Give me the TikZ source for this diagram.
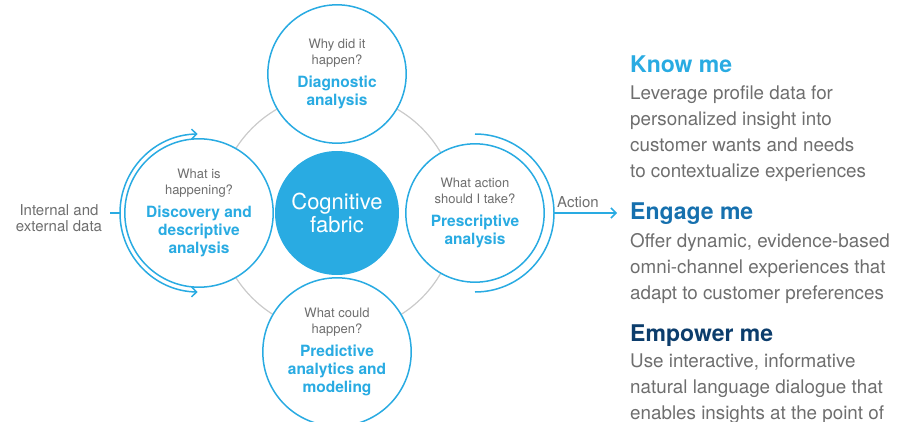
\documentclass[tikz,border=0pt]{standalone}
\usepackage{fontspec}
\setmainfont{TeX Gyre Heros}
\usetikzlibrary{arrows.meta}

\definecolor{ibmblue}{HTML}{29ABE2}
\definecolor{engageblue}{HTML}{1670AE}
\definecolor{empowerblue}{HTML}{0C3D6C}
\definecolor{txtgray}{HTML}{6E6E6E}
\definecolor{ringgray}{HTML}{CACACA}

\newcommand\askfont{\fontsize{13}{16}\selectfont\color{txtgray}}
\newcommand\stagefont{\fontsize{15.5}{18}\selectfont\bfseries\color{ibmblue}}
\newcommand\stagetext[2]{\parbox{120pt}{\centering{\askfont #1\par}\vspace{5pt}{\stagefont #2\par}}}

\begin{document}
\begin{tikzpicture}[x=1pt,y=-1pt,
    stage/.style={circle,draw=ibmblue,line width=1.5pt,fill=white,minimum size=134pt,inner sep=0pt},
    core/.style={circle,fill=ibmblue,minimum size=124pt,inner sep=0pt,text=white,align=center,
      font=\fontsize{22}{23}\selectfont},
    flow/.style={draw=ibmblue,line width=1.5pt},
    tip/.style={-{Straight Barb[length=5pt,width=10pt,line width=1.5pt]}},
    note/.style={text=txtgray,align=center,font=\fontsize{15}{16}\selectfont},
    head/.style={anchor=base west,inner sep=0pt,font=\fontsize{23}{26}\selectfont\bfseries},
    body/.style={anchor=north west,inner sep=0pt,align=left,text=txtgray,font=\fontsize{18.8}{26}\selectfont}]
\useasboundingbox (0,0) rectangle (910,422);

% ring behind the four stages
\draw[ringgray,line width=1.2pt] (337,213) circle[radius=120pt];

\node[core] (core) at (337,213) {Cognitive\\fabric};
\node[stage] (diag) at (337,74) {\stagetext{Why did it\\happen?}{Diagnostic\\analysis}};
\node[stage] (disc) at (199,213) {\stagetext{What is\\happening?}{Discovery and\\descriptive\\analysis}};
\node[stage] (presc) at (475,213) {\stagetext{What action\\should I take?}{Prescriptive\\analysis}};
\node[stage] (pred) at (337,352) {\stagetext{What could\\happen?}{Predictive\\analytics and\\modeling}};

% data in
\node[note] (src) at (59,218) {Internal and\\external data};
\coordinate (datain) at (110,213);
\coordinate (inarc) at (120,213);
\draw[flow] (datain) -- (inarc);
\draw[flow,tip] (inarc) arc[start angle=180,end angle=269,radius=79pt];
\draw[flow,tip] (inarc) arc[start angle=180,end angle=91,radius=79pt];

% action out
\coordinate (outarc) at (554,213);
\coordinate (actend) at (617,213);
\draw[flow] (outarc) ++(-79,-79) arc[start angle=90,end angle=-90,radius=79pt];
\draw[flow,tip] (outarc) -- (actend) node[note,pos=0.38,above=1pt] (act) {Action};

% right column
\node[head,text=ibmblue] (know) at (630,73) {Know me};
\node[body] (knowtxt) at (630,86) {Leverage profile data for\\personalized insight into\\customer wants and needs\\to contextualize experiences};
\node[head,text=engageblue] (engage) at (630,219) {Engage me};
\node[body] (engagetxt) at (630,233) {Offer dynamic, evidence-based\\omni-channel experiences that\\adapt to customer preferences};
\node[head,text=empowerblue] (empower) at (630,341) {Empower me};
\node[body] (empowertxt) at (630,354) {Use interactive, informative\\natural language dialogue that\\enables insights at the point of};
\end{tikzpicture}
\end{document}
